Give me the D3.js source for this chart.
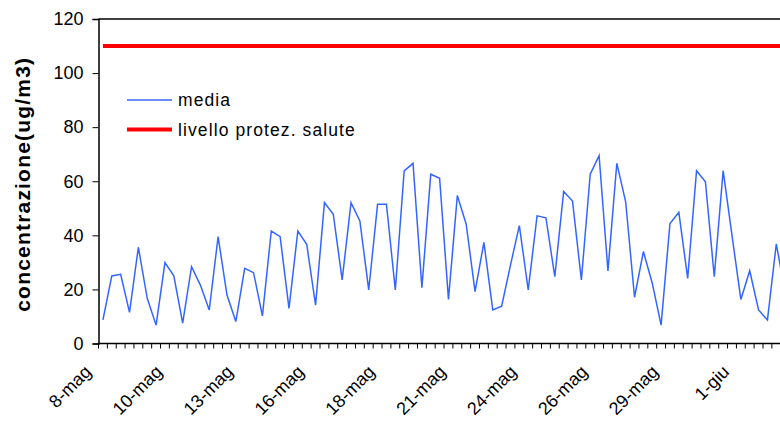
<!DOCTYPE html>
<html>
<head>
<meta charset="utf-8">
<script src="https://cdn.jsdelivr.net/npm/d3@7"></script>
<style>
  body { margin: 0; background: #fff; }
  svg { display: block; font-family: "Liberation Sans", Arial, sans-serif; }
</style>
</head>
<body>
<div id="chart"></div>
<script>
// Concentrazione media (3 valori al giorno, dall'8 maggio)
const media = [
    8.7, 25.0, 25.6, 11.5, 35.6, 16.7, 6.8, 29.9, 25.0, 7.5,
    28.4, 21.6, 12.4, 39.5, 17.9, 8.1, 27.8, 26.2, 10.2, 41.6,
    39.5, 13.0, 41.6, 36.7, 14.2, 52.1, 47.8, 23.5, 52.1, 45.3,
    19.8, 51.5, 51.5, 19.8, 63.8, 66.6, 20.6, 62.6, 61.1, 16.3,
    54.7, 44.1, 19.2, 37.4, 12.4, 13.8, 29.0, 43.6, 19.8, 47.2,
    46.5, 24.7, 56.2, 52.7, 23.5, 62.6, 69.5, 26.8, 66.6, 52.4,
    17.1, 34.0, 22.3, 6.8, 44.4, 48.5, 24.1, 63.9, 59.8, 24.7,
    63.9, 40.0, 16.3, 26.9, 12.4, 8.7, 36.8, 19.0
];
// soglia di protezione della salute
const soglia = media.map(() => 110);

// etichette dell'asse x (una ogni 8 valori)
const labelIndex = [0, 8, 16, 24, 32, 40, 48, 56, 64, 72];
const labelText = ["8-mag", "10-mag", "13-mag", "16-mag", "18-mag", "21-mag",
                   "24-mag", "26-mag", "29-mag", "1-giu"];
const yTicks = [0, 20, 40, 60, 80, 100, 120];

const legendItems = [
    { name: "media", color: "#3366ff", width: 1.5 },
    { name: "livello protez. salute", color: "#ff0000", width: 4 }
];

const width = 780, height = 422;
const plotLeft = 98.5, plotTop = 19, plotBottom = 343.5;
const step = 8.86;
const n = media.length;

const svg = d3.select("#chart").append("svg")
    .attr("width", width)
    .attr("height", height);

const x = d3.scaleLinear().domain([0, n]).range([plotLeft, plotLeft + n * step]);
const y = d3.scaleLinear().domain([0, 120]).range([plotBottom, plotTop]);

// bordo superiore dell'area del grafico
svg.append("line")
    .attr("x1", plotLeft).attr("x2", x(n))
    .attr("y1", plotTop).attr("y2", plotTop)
    .style("stroke", "#000").style("stroke-width", 1.5);

// asse y
const yAxis = svg.append("g")
    .attr("transform", `translate(${plotLeft},0)`)
    .call(d3.axisLeft(y).tickValues(yTicks).tickSize(6).tickPadding(9).tickFormat(d3.format("d")));
yAxis.select(".domain").style("stroke", "#000").style("stroke-width", 1.5);
yAxis.selectAll(".tick line").style("stroke", "#000");
yAxis.selectAll("text").style("font-size", "18px").style("fill", "#000")
    .style("font-family", "'Liberation Sans', Arial, sans-serif");

// titolo asse y
svg.append("text")
    .attr("transform", `translate(29.5,${(plotTop + plotBottom) / 2 + 3}) rotate(-90)`)
    .attr("text-anchor", "middle")
    .style("font-size", "21px")
    .style("font-weight", "bold")
    .style("letter-spacing", "1.2px")
    .text("concentrazione(ug/m3)");

// asse x: tacche tra le categorie
svg.append("g").selectAll("line")
    .data(d3.range(n + 1))
    .join("line")
    .attr("x1", d => x(d)).attr("x2", d => x(d))
    .attr("y1", plotBottom).attr("y2", plotBottom + 5)
    .style("stroke", "#000").style("stroke-width", 1);

svg.append("line")
    .attr("x1", plotLeft).attr("x2", x(n))
    .attr("y1", plotBottom).attr("y2", plotBottom)
    .style("stroke", "#000").style("stroke-width", 1.5);

// etichette asse x
svg.append("g").selectAll("text")
    .data(labelIndex)
    .join("text")
    .attr("transform", d => `translate(${x(d + 0.5) - 15},${plotBottom + 25}) rotate(-45)`)
    .attr("text-anchor", "end")
    .attr("dy", "0.35em")
    .style("font-size", "18px")
    .text((d, i) => labelText[i]);

// serie
const line = d3.line()
    .x((d, i) => x(i + 0.5))
    .y(d => y(d));

svg.append("path")
    .datum(soglia)
    .attr("d", line)
    .style("fill", "none")
    .style("stroke", "#ff0000")
    .style("stroke-width", 4);

svg.append("path")
    .datum(media)
    .attr("d", line)
    .style("fill", "none")
    .style("stroke", "#3366ff")
    .style("stroke-width", 1.5)
    .style("stroke-linejoin", "miter");

// legenda
const legend = svg.append("g").attr("transform", "translate(127,100)");
legendItems.forEach((item, i) => {
    const g = legend.append("g").attr("transform", `translate(0,${i * 29.5})`);
    g.append("line")
        .attr("x1", 0).attr("x2", 45)
        .attr("y1", 0).attr("y2", 0)
        .style("stroke", item.color)
        .style("stroke-width", item.width);
    g.append("text")
        .attr("x", 51)
        .attr("y", 0)
        .attr("dy", "0.35em")
        .style("font-size", "17.5px")
        .style("letter-spacing", "1.1px")
        .text(item.name);
});
</script>
</body>
</html>
